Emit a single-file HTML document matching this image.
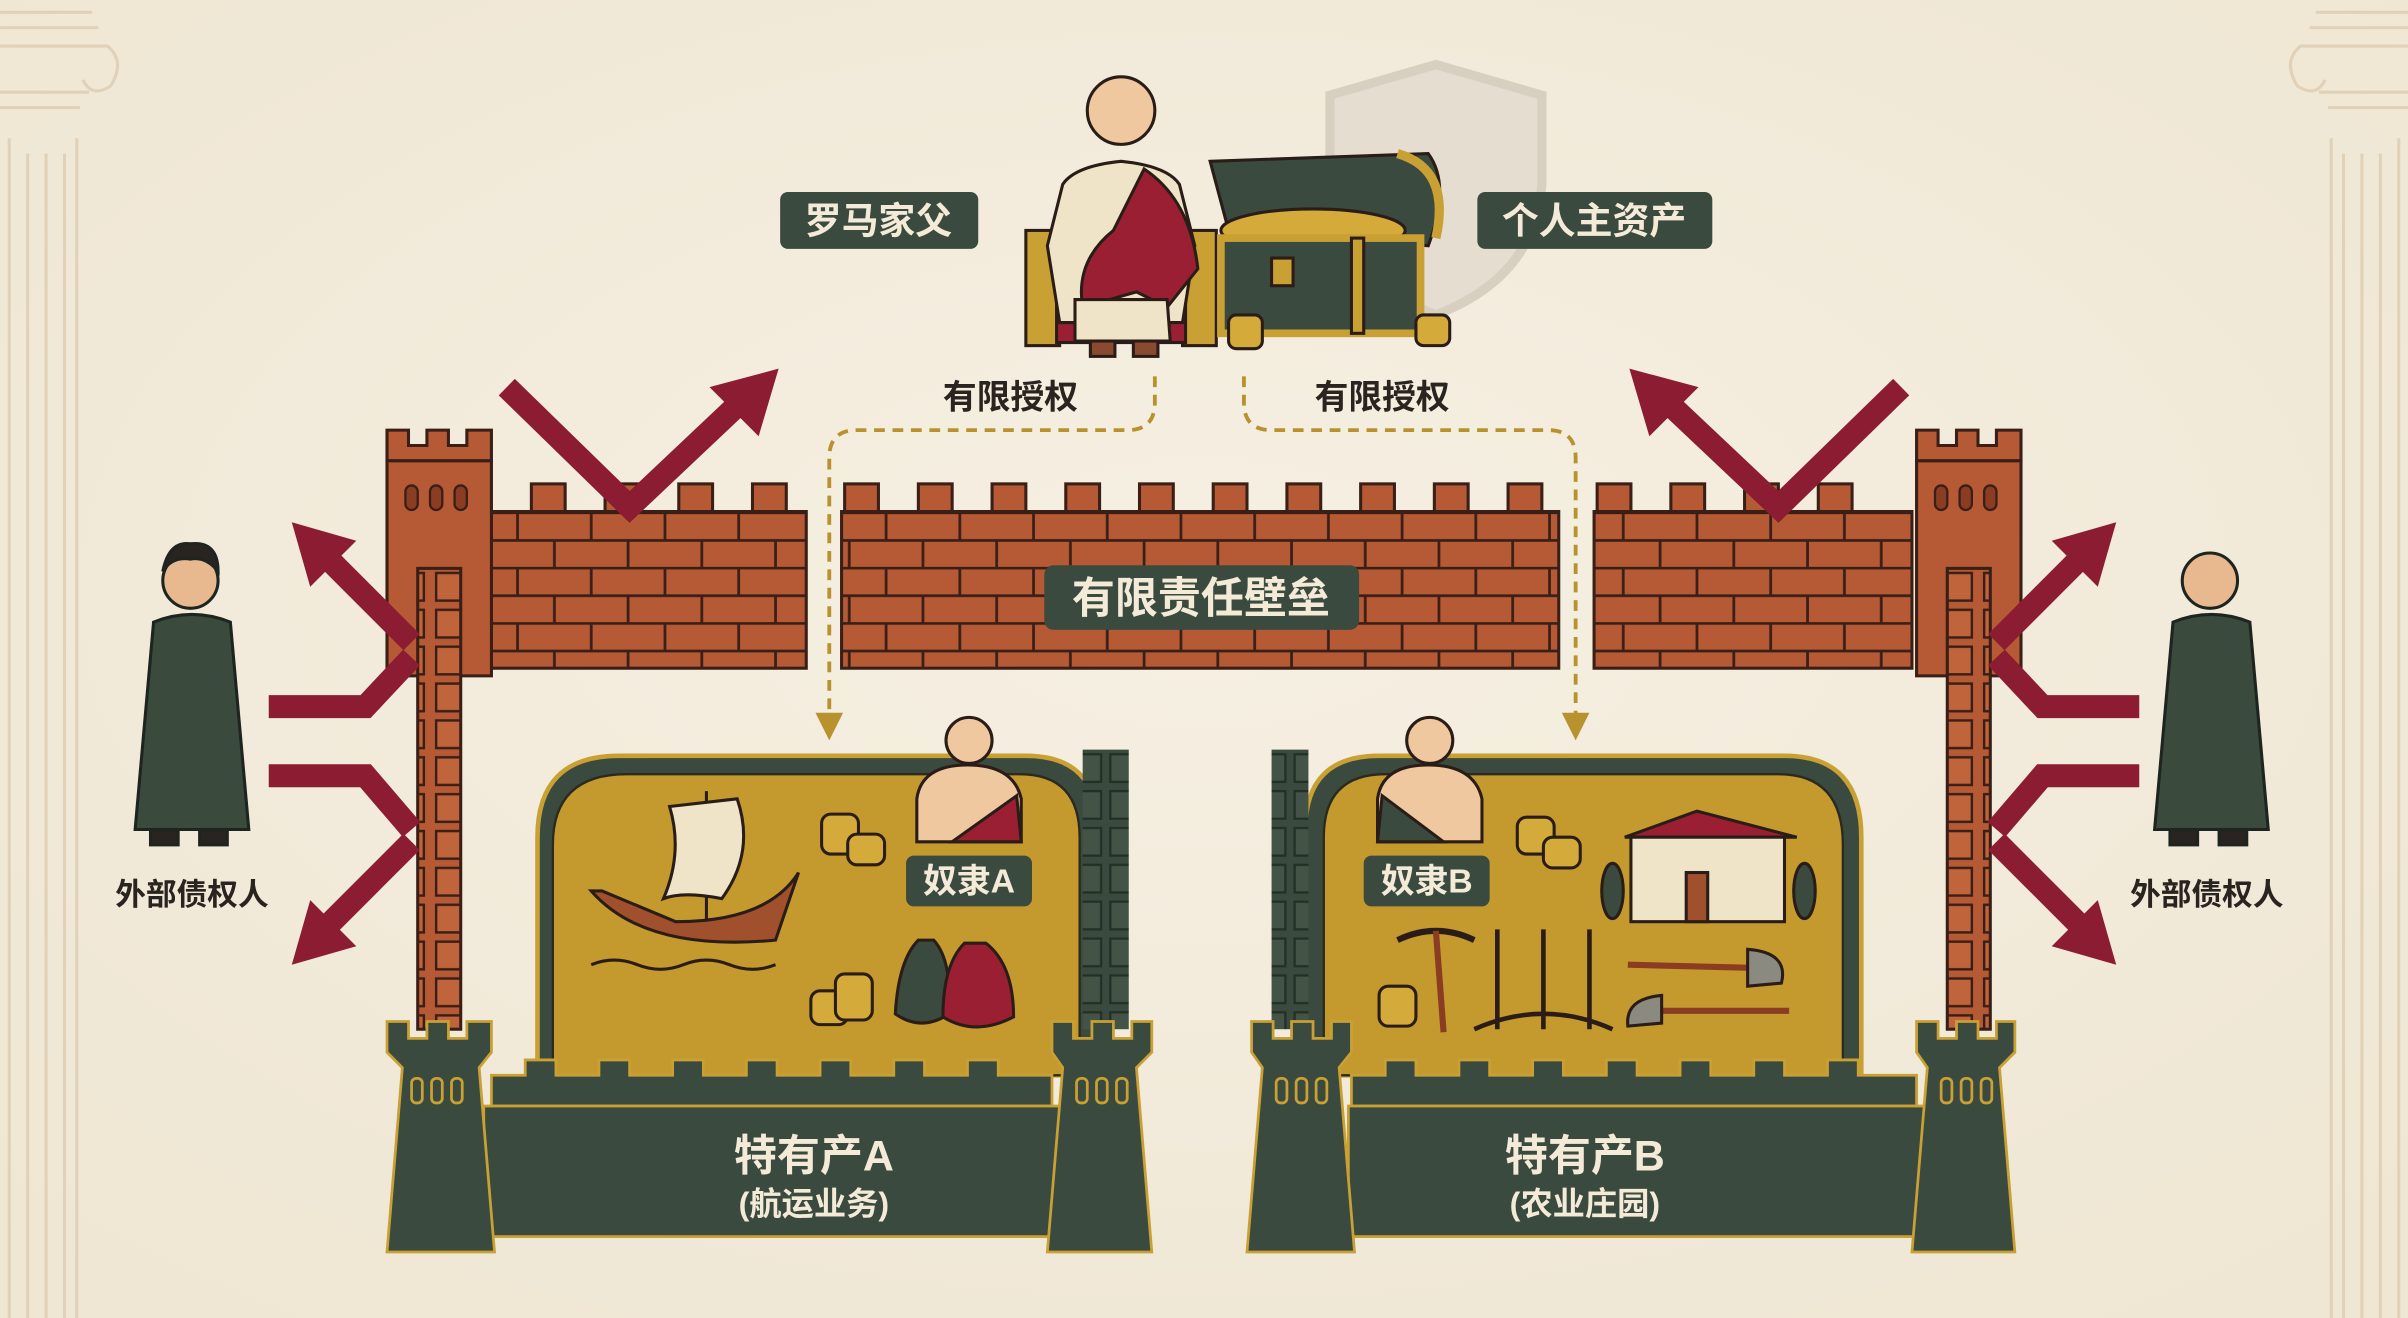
<!DOCTYPE html>
<html><head><meta charset="utf-8"><style>
html,body{margin:0;padding:0;background:#f4eddf;}
svg{display:block;}
text{font-family:"Liberation Sans","Noto Sans CJK SC",sans-serif;font-weight:bold;}
</style></head><body>
<svg width="2408" height="1318" viewBox="0 0 1568 858" preserveAspectRatio="none" xmlns="http://www.w3.org/2000/svg">
<defs>
<pattern id="brick" x="0" y="333" width="48" height="36" patternUnits="userSpaceOnUse">
<rect width="48" height="36" fill="#b65a35"/>
<path d="M0 0.8H48M0 18.8H48M1 0V18M25 18V36" stroke="#3a1f17" stroke-width="1.8"/>
</pattern>
<pattern id="brickv" x="0" y="370" width="28" height="24" patternUnits="userSpaceOnUse">
<rect width="28" height="24" fill="#b65a35"/>
<rect x="4" y="3" width="20" height="18" fill="#c0643c" stroke="#3a1f17" stroke-width="1.6"/>
</pattern>
<pattern id="greenv" x="0" y="488" width="30" height="24" patternUnits="userSpaceOnUse">
<rect width="30" height="24" fill="#3b4a3e"/>
<rect x="3" y="3" width="24" height="18" fill="#435346" stroke="#233026" stroke-width="1.5"/>
</pattern>
<radialGradient id="bg" cx="50%" cy="45%" r="70%"><stop offset="0" stop-color="#f6f0e3"/><stop offset="1" stop-color="#efe6d3"/></radialGradient>
</defs>
<rect width="1568" height="858" fill="url(#bg)"/>
<!-- pillars -->
<g fill="none" stroke="#e0d1b8" stroke-width="2">
<path d="M0 8H60M0 18H64M0 30H70 Q82 40 72 56 Q60 64 54 52M0 60H58M0 70H52"/>
<path d="M6 90V858M18 100V858M30 100V858M42 100V858M50 90V858"/>
<path d="M1568 8H1508M1568 18H1504M1568 30H1498Q1486 40 1496 56Q1508 64 1514 52M1568 60H1510M1568 70H1516"/>
<path d="M1562 90V858M1550 100V858M1538 100V858M1526 100V858M1518 90V858"/>
</g>
<!-- shield -->
<path d="M935 42 L1004 62 V120 Q1000 180 935 205 Q870 180 866 120 V62Z" fill="#e4ddd0" stroke="#d7cfc0" stroke-width="6"/>
<!-- labels top -->
<rect x="508" y="125" width="129" height="37" rx="5" fill="#3b4a3e"/>
<text x="572" y="152" font-size="24" fill="#f3ead8" text-anchor="middle">罗马家父</text>
<rect x="962" y="125" width="153" height="37" rx="5" fill="#3b4a3e"/>
<text x="1038" y="152" font-size="24" fill="#f3ead8" text-anchor="middle">个人主资产</text>
<!-- father -->
<g stroke="#2a1d17" stroke-width="2">
<rect x="668" y="150" width="22" height="75" fill="#c9a033"/>
<rect x="770" y="150" width="22" height="75" fill="#c9a033"/>
<rect x="688" y="175" width="84" height="48" fill="#9b1f33"/>
<path d="M692 120 Q700 108 730 105 Q760 108 768 120 L778 160 L770 210 L690 210 L682 160Z" fill="#efe3c8"/>
<path d="M745 110 Q775 130 780 175 L760 200 L740 190 L705 200 Q700 170 725 150Z" fill="#9b1f33"/>
<path d="M700 195 L760 195 L762 222 L700 222Z" fill="#efe3c8"/>
<circle cx="730" cy="72" r="22" fill="#f0c8a0"/>
<rect x="710" y="222" width="16" height="10" fill="#8a4a30"/><rect x="738" y="222" width="16" height="10" fill="#8a4a30"/>
</g>
<!-- chest -->
<g stroke="#2a1d17" stroke-width="2">
<path d="M788 105 L930 100 Q945 120 930 160 L800 150Z" fill="#3b4a3e"/>
<path d="M910 100 Q945 110 935 155" fill="none" stroke="#c9a033" stroke-width="6"/>
<ellipse cx="855" cy="150" rx="60" ry="14" fill="#d4aa3a"/>
<rect x="795" y="155" width="130" height="62" fill="#3b4a3e"/>
<rect x="795" y="155" width="130" height="62" fill="none" stroke="#c9a033" stroke-width="5"/>
<rect x="880" y="155" width="8" height="62" fill="#c9a033"/>
<rect x="828" y="168" width="14" height="18" fill="#c9a033"/>
<rect x="800" y="205" width="22" height="22" rx="5" fill="#d4aa3a"/>
<rect x="922" y="205" width="22" height="20" rx="5" fill="#d4aa3a"/>
</g>
<text x="658" y="266" font-size="22" fill="#2a2420" text-anchor="middle">有限授权</text>
<text x="900" y="266" font-size="22" fill="#2a2420" text-anchor="middle">有限授权</text>
<!-- dashed -->
<g fill="none" stroke="#b8922e" stroke-width="2.5" stroke-dasharray="7 5">
<path d="M752 245V262Q752 280 734 280H558Q540 280 540 298V465"/>
<path d="M810 245V262Q810 280 828 280H1008Q1026 280 1026 298V465"/>
</g>
<polygon points="531,464 549,464 540,482" fill="#b8922e"/>
<polygon points="1017,464 1035,464 1026,482" fill="#b8922e"/>
<!-- walls -->
<g stroke="#3a1f17" stroke-width="2">
<rect x="320" y="333" width="205" height="102" fill="url(#brick)"/>
<rect x="548" y="333" width="467" height="102" fill="url(#brick)"/>
<rect x="1038" y="333" width="207" height="102" fill="url(#brick)"/>
<g fill="#b65a35">
<rect x="346" y="315" width="22" height="18"/><rect x="394" y="315" width="22" height="18"/><rect x="442" y="315" width="22" height="18"/><rect x="490" y="315" width="22" height="18"/>
<rect x="550" y="315" width="22" height="18"/><rect x="598" y="315" width="22" height="18"/><rect x="646" y="315" width="22" height="18"/><rect x="694" y="315" width="22" height="18"/><rect x="742" y="315" width="22" height="18"/><rect x="790" y="315" width="22" height="18"/><rect x="838" y="315" width="22" height="18"/><rect x="886" y="315" width="22" height="18"/><rect x="934" y="315" width="22" height="18"/><rect x="982" y="315" width="22" height="18"/>
<rect x="1040" y="315" width="22" height="18"/><rect x="1088" y="315" width="22" height="18"/><rect x="1136" y="315" width="22" height="18"/><rect x="1184" y="315" width="22" height="18"/>
</g>
<!-- towers -->
<path d="M252 280H266V290H278V280H292V290H304V280H320V300H252Z" fill="#b65a35"/>
<path d="M252 300H320V440H252Z" fill="#b65a35"/>
<path d="M1248 280H1262V290H1274V280H1288V290H1300V280H1316V300H1248Z" fill="#b65a35"/>
<path d="M1248 300H1316V440H1248Z" fill="#b65a35"/>
<rect x="272" y="370" width="28" height="300" fill="url(#brickv)"/>
<rect x="1268" y="370" width="28" height="300" fill="url(#brickv)"/>
</g>
<g fill="#8a3d22" stroke="#3a1f17" stroke-width="1.5">
<rect x="264" y="316" width="8" height="16" rx="4"/><rect x="280" y="316" width="8" height="16" rx="4"/><rect x="296" y="316" width="8" height="16" rx="4"/>
<rect x="1260" y="316" width="8" height="16" rx="4"/><rect x="1276" y="316" width="8" height="16" rx="4"/><rect x="1292" y="316" width="8" height="16" rx="4"/>
</g>
<rect x="680" y="368" width="205" height="42" rx="6" fill="#3b4a3e"/>
<text x="782" y="399" font-size="28" fill="#f3ead8" text-anchor="middle">有限责任壁垒</text>
<!-- red arrows -->
<g id="arr" fill="none" stroke="#8c1c32" stroke-width="15" stroke-linejoin="miter">
<polyline points="330,252 410,330 482,262"/>
<polyline points="268,418 208,358"/>
<polyline points="175,460 238,460 268,428"/>
<polyline points="175,505 238,505 268,540"/>
<polyline points="268,548 208,608"/>
</g>
<g fill="#8c1c32">
<polygon points="507,240 462,252 494,284"/>
<polygon points="190,340 232,352 202,382"/>
<polygon points="190,628 202,586 232,616"/>
</g>
<g transform="translate(1568,0) scale(-1,1)">
<g fill="none" stroke="#8c1c32" stroke-width="15">
<polyline points="330,252 410,330 482,262"/>
<polyline points="268,418 208,358"/>
<polyline points="175,460 238,460 268,428"/>
<polyline points="175,505 238,505 268,540"/>
<polyline points="268,548 208,608"/>
</g>
<g fill="#8c1c32">
<polygon points="507,240 462,252 494,284"/>
<polygon points="190,340 232,352 202,382"/>
<polygon points="190,628 202,586 232,616"/>
</g>
</g>
<!-- creditors -->
<g stroke="#1e241f" stroke-width="2">
<path d="M100 405 Q125 395 150 405 L162 540 L88 540Z" fill="#3a4a3c"/>
<circle cx="124" cy="378" r="18" fill="#e8b98e"/>
<path d="M106 372 Q110 352 124 354 Q142 352 142 372 Q134 362 124 364 Q112 362 106 372Z" fill="#2a2420"/>
<rect x="98" y="540" width="18" height="10" fill="#2a2420"/><rect x="130" y="540" width="18" height="10" fill="#2a2420"/>
<path d="M1415 405 Q1440 395 1465 405 L1477 540 L1403 540Z" fill="#3a4a3c"/>
<circle cx="1439" cy="378" r="18" fill="#e8b98e"/>
<rect x="1413" y="540" width="18" height="10" fill="#2a2420"/><rect x="1445" y="540" width="18" height="10" fill="#2a2420"/>
</g>
<text x="125" y="589" font-size="20" fill="#2a2420" text-anchor="middle">外部债权人</text>
<text x="1437" y="589" font-size="20" fill="#2a2420" text-anchor="middle">外部债权人</text>
<!-- compound A -->
<path d="M350 700V545Q350 492 403 492H668Q715 492 715 540V700Z" fill="#3b4a3e" stroke="#c9a033" stroke-width="3"/>
<path d="M360 700V550Q360 504 408 504H664Q703 504 703 545V700Z" fill="#c49a2e" stroke="#2a2a20" stroke-width="1.5"/>
<rect x="705" y="488" width="30" height="182" fill="url(#greenv)"/>
<!-- ship -->
<g stroke="#2a1d17" stroke-width="2">
<path d="M385 580 Q420 620 505 612 L520 568 Q500 600 440 600 L392 580Z" fill="#a0502c"/>
<line x1="460" y1="515" x2="460" y2="600"/>
<path d="M436 525 L480 520 Q492 555 470 585 Q445 580 432 585 Q445 555 436 525Z" fill="#efe3c8"/>
<path d="M385 628 Q400 622 415 628 T445 628 T475 628 T505 628" fill="none"/>
<g fill="#d4aa3a"><rect x="535" y="530" width="24" height="26" rx="6"/><rect x="552" y="543" width="24" height="20" rx="6"/><rect x="528" y="645" width="24" height="22" rx="6"/><rect x="544" y="634" width="24" height="30" rx="6"/></g>
<path d="M598 612 Q585 625 583 660 Q600 672 618 660 Q620 625 608 612Z" fill="#3b4a3e"/>
<path d="M628 614 Q614 628 614 662 Q635 675 660 662 Q660 628 642 614Z" fill="#9b1f33"/>
<path d="M597 520 Q600 498 630 498 Q660 498 665 520 L665 548 L597 548Z" fill="#f0c8a0"/>
<path d="M620 548 L662 518 L665 548Z" fill="#9b1f33"/>
<circle cx="631" cy="482" r="15" fill="#f0c8a0"/>
</g>
<rect x="590" y="557" width="82" height="33" rx="5" fill="#3b4a3e"/>
<text x="631" y="581" font-size="22" fill="#f3ead8" text-anchor="middle">奴隶A</text>
<!-- bottom wall A -->
<g stroke="#c9a033" stroke-width="1.8" fill="#3b4a3e">
<path d="M320 720V700H342V690H362V700H390V690H410V700H438V690H458V700H486V690H506V700H534V690H554V700H582V690H602V700H630V690H650V700H685V720Z"/>
<rect x="315" y="720" width="375" height="85"/>
<path d="M252 665H266V676H278V665H292V676H304V665H320V685L312 695 322 815H252L262 695 252 685Z"/>
<path d="M685 665H699V676H711V665H725V676H737V665H750V685L740 695 750 815H682L692 695 685 685Z"/>
<g fill="none"><rect x="268" y="702" width="7" height="16" rx="3"/><rect x="281" y="702" width="7" height="16" rx="3"/><rect x="294" y="702" width="7" height="16" rx="3"/><rect x="701" y="702" width="7" height="16" rx="3"/><rect x="714" y="702" width="7" height="16" rx="3"/><rect x="727" y="702" width="7" height="16" rx="3"/></g>
</g>
<text x="530" y="762" font-size="28" fill="#f3ead8" text-anchor="middle">特有产A</text>
<text x="530" y="791" font-size="21" fill="#f3ead8" text-anchor="middle">(航运业务)</text>
<!-- compound B -->
<path d="M850 700V540Q850 492 898 492H1162Q1212 492 1212 545V700Z" fill="#3b4a3e" stroke="#c9a033" stroke-width="3"/>
<path d="M862 700V545Q862 504 902 504H1158Q1200 504 1200 550V700Z" fill="#c49a2e" stroke="#2a2a20" stroke-width="1.5"/>
<rect x="828" y="488" width="24" height="182" fill="url(#greenv)"/>
<g stroke="#2a1d17" stroke-width="2">
<path d="M897 520 Q900 498 930 498 Q960 498 965 520 L965 548 L897 548Z" fill="#f0c8a0"/>
<path d="M900 518 L940 548 L897 548Z" fill="#3b4a3e"/>
<circle cx="931" cy="482" r="15" fill="#f0c8a0"/>
<g fill="#d4aa3a"><rect x="988" y="532" width="24" height="24" rx="6"/><rect x="1005" y="545" width="24" height="20" rx="6"/><rect x="898" y="642" width="24" height="26" rx="6"/></g>
<path d="M1058 545 L1105 528 L1170 545Z" fill="#9b1f33"/>
<rect x="1062" y="545" width="100" height="55" fill="#efe3c8"/>
<rect x="1098" y="568" width="14" height="32" fill="#a0502c"/>
<ellipse cx="1050" cy="580" rx="7" ry="18" fill="#3b4a3e"/><ellipse cx="1175" cy="580" rx="7" ry="18" fill="#3b4a3e"/>
<path d="M910 612 Q935 600 960 612" fill="none" stroke-width="4"/><line x1="935" y1="606" x2="940" y2="672" stroke="#8a3d22" stroke-width="4"/>
<g fill="none" stroke="#2a1d17" stroke-width="3"><path d="M975 605V670M1005 605V670M1035 605V670M960 670Q1005 650 1050 670"/></g>
<line x1="1060" y1="628" x2="1140" y2="630" stroke="#8a3d22" stroke-width="4"/><path d="M1138 618 Q1165 620 1160 640 L1138 642Z" fill="#8a8a80"/>
<line x1="1080" y1="658" x2="1165" y2="658" stroke="#8a3d22" stroke-width="4"/><path d="M1082 648 Q1058 650 1060 668 L1082 666Z" fill="#8a8a80"/>
</g>
<rect x="888" y="557" width="82" height="33" rx="5" fill="#3b4a3e"/>
<text x="929" y="581" font-size="22" fill="#f3ead8" text-anchor="middle">奴隶B</text>
<g stroke="#c9a033" stroke-width="1.8" fill="#3b4a3e">
<path d="M880 720V700H902V690H922V700H950V690H970V700H998V690H1018V700H1046V690H1066V700H1094V690H1114V700H1142V690H1162V700H1190V690H1210V700H1248V720Z"/>
<rect x="878" y="720" width="375" height="85"/>
<path d="M815 665H829V676H841V665H855V676H867V665H880V685L872 695 882 815H812L822 695 815 685Z"/>
<path d="M1248 665H1262V676H1274V665H1288V676H1300V665H1312V685L1302 695 1312 815H1245L1255 695 1248 685Z"/>
<g fill="none"><rect x="831" y="702" width="7" height="16" rx="3"/><rect x="844" y="702" width="7" height="16" rx="3"/><rect x="857" y="702" width="7" height="16" rx="3"/><rect x="1264" y="702" width="7" height="16" rx="3"/><rect x="1277" y="702" width="7" height="16" rx="3"/><rect x="1290" y="702" width="7" height="16" rx="3"/></g>
</g>
<text x="1032" y="762" font-size="28" fill="#f3ead8" text-anchor="middle">特有产B</text>
<text x="1032" y="791" font-size="21" fill="#f3ead8" text-anchor="middle">(农业庄园)</text>
</svg>
</body></html>
